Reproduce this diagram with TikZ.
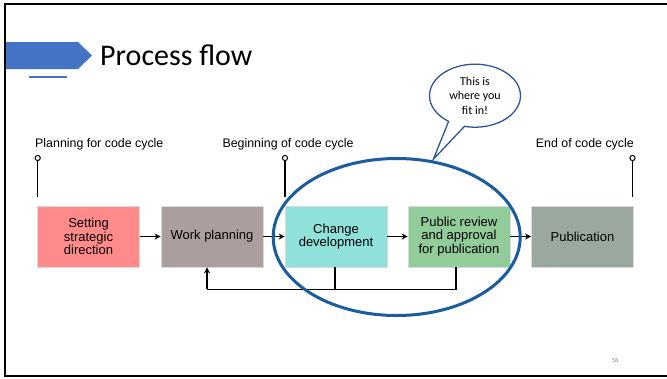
\documentclass[tikz,border=0pt]{standalone}
\usepackage{fontspec}
\setmainfont{Liberation Sans}
\newfontfamily\calib{Carlito}
\usetikzlibrary{arrows.meta,shapes.geometric,shapes.callouts,calc}
\definecolor{cA}{HTML}{FF8A8A}
\definecolor{cB}{HTML}{AB9E9E}
\definecolor{cC}{HTML}{8EE2DA}
\definecolor{cD}{HTML}{92CC9A}
\definecolor{cE}{HTML}{9BA89F}
\definecolor{ringblue}{HTML}{1B5C9E}
\definecolor{calloutblue}{HTML}{2E5597}
\definecolor{titleblue}{HTML}{4472C4}
\begin{document}
\begin{tikzpicture}[x=1pt,y=-1pt,
  stepbox/.style={minimum width=102pt,minimum height=61pt,inner sep=0pt,align=center,
    font=\fontsize{13}{13.2}\selectfont,draw=white!85!black,line width=0.6pt},
  lbl/.style={font=\fontsize{12.4}{13}\selectfont,inner sep=0pt},
  conn/.style={line width=1.3pt,black},
  arr/.style={conn,-{Stealth[length=6pt,width=6pt,inset=1.8pt]}},
  pinline/.style={line width=1.3pt,black}]
\useasboundingbox (0,0) rectangle (667,378);
\fill[white] (0,0) rectangle (667,378);
% frame
\draw[line width=2pt] (5,376) -- (5,3.5) -- (667,3.5);
\draw[line width=2pt] (4,375.5) -- (667,375.5);
% title
\fill[titleblue] (6,42) -- (78,42) -- (92,55.5) -- (78,69) -- (6,69) -- cycle;
\draw[titleblue,line width=1.5pt] (29,77) -- (67,77);
\node[anchor=base west,inner sep=0pt,font=\calib\fontsize{30}{30}\selectfont] (title) at (100,65) {Process flow};
% boxes
\node[stepbox,fill=cA] (b1) at (88.5,236.5) {Setting\\strategic\\direction};
\node[stepbox,fill=cB] (b2) at (212,236.5) {Work planning};
\node[stepbox,fill=cC] (b3) at (336,236.5) {Change\\development};
\node[stepbox,fill=cD] (b4) at (459,236.5) {Public review\\and approval\\for publication};
\node[stepbox,fill=cE] (b5) at (582.5,236.5) {Publication};
\draw[arr] (b1.east) -- (b2.west);
\draw[arr] (b2.east) -- (b3.west);
\draw[arr] (b3.east) -- (b4.west);
\draw[arr] (b4.east) -- (b5.west);
% feedback
\coordinate (fb) at (207,289.3);
\coordinate (f3) at (335,267);
\coordinate (f4) at (456,267);
\draw[conn] (f3) -- (f3 |- fb);
\draw[conn] (f4) |- (fb);
\draw[arr] (fb) -- (fb |- b2.south);
% pins
\coordinate (k1) at (37.7,158);
\coordinate (k2) at (285,158);
\coordinate (k3) at (632.5,158);
\foreach \k in {k1,k2,k3}{
  \draw[pinline] ($(\k)+(0,39)$) -- ($(\k)+(0,2.6)$);
  \draw[line width=1pt,fill=white] (\k) circle[radius=2.6pt];
}
\node[lbl,anchor=west] (l1) at (35,144) {Planning for code cycle};
\node[lbl] (l2) at (288,144) {Beginning of code cycle};
\node[lbl,anchor=east] (l3) at (634,144) {End of code cycle};
% focus ellipse
\node[draw=ringblue,line width=3pt,ellipse,minimum width=247pt,minimum height=157pt,inner sep=0pt] (ring) at (396.7,237) {};
% callout
\coordinate (tip) at (433.3,159.3);
\node[ellipse callout,draw=calloutblue,line width=1.3pt,fill=white,
  callout absolute pointer=(tip),callout pointer arc=22,
  minimum width=91pt,minimum height=63pt,inner sep=0pt,align=center,
  font=\calib\fontsize{12}{14.6}\selectfont] (bubble) at (475,95.7) {This is\\where you\\fit in!};
% page number
\node[font=\calib\fontsize{6}{6}\selectfont,text=gray] (pg) at (615,360) {58};
\end{tikzpicture}
\end{document}
